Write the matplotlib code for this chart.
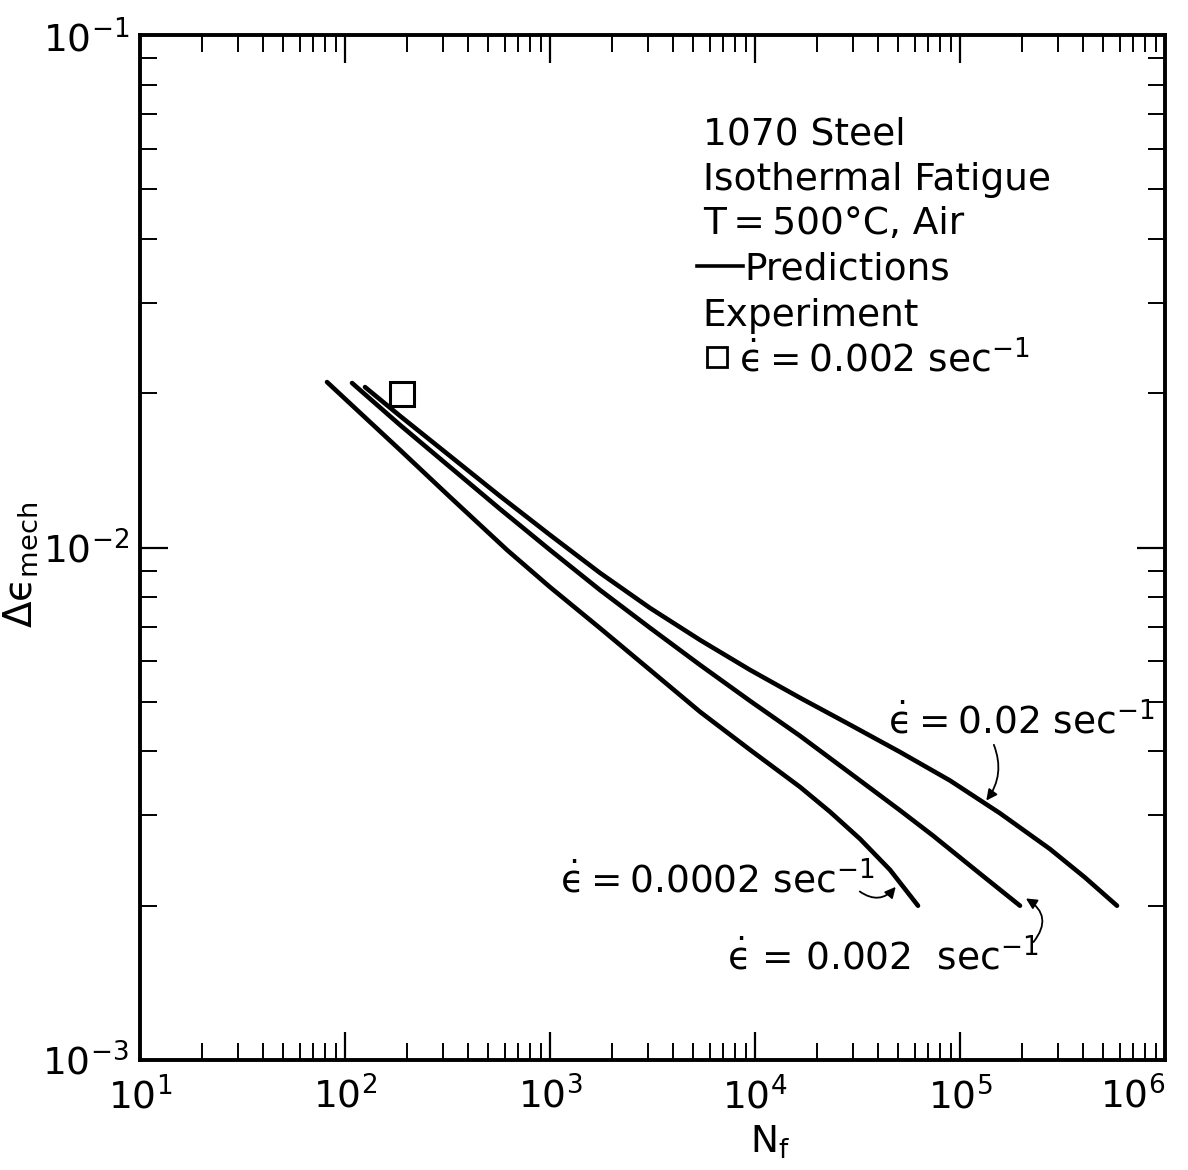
import matplotlib
matplotlib.use("Agg")
import matplotlib.pyplot as plt
from matplotlib.ticker import LogLocator, NullFormatter

# ---- data ----
# Predictions, strain rate 0.0002 /s
nf_0002 = [81.7, 185.5, 325, 617, 1000, 1754, 3074, 5392, 9454, 16580, 23220, 32530,
           45550, 62400]
de_0002 = [0.02103, 0.01550, 0.01255, 0.00989, 0.00837, 0.00696, 0.00577, 0.00478,
           0.00403, 0.00341, 0.00305, 0.00270, 0.00235, 0.00200]
# Predictions, strain rate 0.002 /s
nf_002 = [108.2, 185.5, 325, 570, 1000, 1754, 3074, 5392, 9454, 16580, 29070, 50960,
          73850, 125200, 196200]
de_002 = [0.02094, 0.01734, 0.01436, 0.01189, 0.00989, 0.00826, 0.00697, 0.00590,
          0.00502, 0.00429, 0.00363, 0.00307, 0.00274, 0.00231, 0.00200]
# Predictions, strain rate 0.02 /s
nf_02 = [125.2, 185.5, 325, 570, 1000, 1754, 3074, 5392, 9454, 16580, 29070, 50960,
         89360, 156700, 274800, 407200, 583300]
de_02 = [0.02056, 0.01806, 0.01509, 0.01260, 0.01058, 0.00892, 0.00762, 0.00660,
         0.00577, 0.00509, 0.00451, 0.00399, 0.00351, 0.00303, 0.00258, 0.00227, 0.00200]
# Experiment, strain rate 0.002 /s
exp_nf = [190]
exp_de = [0.0199]

x_ticks = [1e1, 1e2, 1e3, 1e4, 1e5, 1e6]
y_ticks = [1e-3, 1e-2, 1e-1]
legend_lines = ["1070 Steel", "Isothermal Fatigue", "T\u2009=\u2009500°C, Air"]

FS = 27
TS = "\u2009"
EPS = "$\\dot{\\mathrm{\u03f5}}$"
plt.rcParams['font.family'] = ['DejaVu Sans']
plt.rcParams['mathtext.fontset'] = 'dejavusans'
plt.rcParams['axes.unicode_minus'] = False

fig = plt.figure(figsize=(11.88, 11.70), dpi=100)
ax = fig.add_axes([140/1188, 1 - 1060/1170, 1025/1188, 1025/1170])

for nf, de in [(nf_0002, de_0002), (nf_002, de_002), (nf_02, de_02)]:
    ax.plot(nf, de, color='black', lw=3.3, solid_capstyle='round', solid_joinstyle='round')
ax.plot(exp_nf, exp_de, linestyle='none', marker='s', markersize=17,
        markerfacecolor='white', markeredgecolor='black', markeredgewidth=2.2)

ax.set_xscale('log')
ax.set_yscale('log')
ax.set_xlim(1e1, 1e6)
ax.set_ylim(1e-3, 1e-1)
ax.set_xticks(x_ticks)
ax.set_yticks(y_ticks)
ax.xaxis.set_minor_locator(LogLocator(base=10, subs=range(2, 10), numticks=20))
ax.yaxis.set_minor_locator(LogLocator(base=10, subs=range(2, 10), numticks=20))
ax.xaxis.set_minor_formatter(NullFormatter())
ax.yaxis.set_minor_formatter(NullFormatter())

for s in ax.spines.values():
    s.set_linewidth(2.8)
ax.tick_params(which='both', direction='in', top=True, right=True, labelsize=FS)
ax.tick_params(which='major', length=20, width=1.6)
ax.tick_params(which='minor', length=12, width=1.4)
ax.tick_params(axis='x', which='major', pad=12)
ax.tick_params(axis='y', which='major', pad=8)
ax.xaxis.get_major_ticks()[-1].label1.set_horizontalalignment('right')

ax.set_xlabel(r'N$_{\rm f}$', fontsize=FS)
ax.set_ylabel("$\\Delta\\mathrm{\u03f5}_{\\rm mech}$", fontsize=FS + 1)
ax.xaxis.set_label_coords(0.615, -0.062)
ax.yaxis.set_label_coords(-0.098, 0.483)

# legend block
tr = ax.transAxes
ys = [0.893, 0.849, 0.806]
for t, y in zip(legend_lines, ys):
    ax.text(0.549, y, t, transform=tr, fontsize=FS, va='baseline', ha='left')
ax.plot([0.543, 0.588], [0.775, 0.775], transform=tr, color='black', lw=2.6)
ax.text(0.590, 0.761, 'Predictions', transform=tr, fontsize=FS, va='baseline', ha='left')
ax.text(0.549, 0.716, 'Experiment', transform=tr, fontsize=FS, va='baseline', ha='left')
ax.plot([0.563], [0.686], transform=tr, linestyle='none', marker='s', markersize=14,
        markerfacecolor='white', markeredgecolor='black', markeredgewidth=2.0)
ax.text(0.584, 0.672, EPS + TS + '=' + TS + '0.002 sec$^{-1}$',
        transform=tr, fontsize=FS, va='baseline', ha='left')

# curve labels with arrows
ax.text(0.730, 0.319, EPS + TS + '=' + TS + '0.02 sec$^{-1}$',
        transform=tr, fontsize=FS, va='baseline', ha='left')
ax.text(0.410, 0.163, EPS + TS + '=' + TS + '0.0002 sec$^{-1}$',
        transform=tr, fontsize=FS, va='baseline', ha='left')
ax.text(0.573, 0.088, EPS + ' = 0.002  sec$^{-1}$',
        transform=tr, fontsize=FS, va='baseline', ha='left')

arrow_kw = dict(arrowstyle='-|>', color='black', lw=1.3, mutation_scale=16)
ax.annotate('', xy=(0.824, 0.251), xytext=(0.832, 0.310), xycoords=tr, textcoords=tr,
            arrowprops=dict(connectionstyle='arc3,rad=-0.3', **arrow_kw))
ax.annotate('', xy=(0.739, 0.171), xytext=(0.700, 0.166), xycoords=tr, textcoords=tr,
            arrowprops=dict(connectionstyle='arc3,rad=0.5', **arrow_kw))
ax.annotate('', xy=(0.862, 0.159), xytext=(0.870, 0.113), xycoords=tr, textcoords=tr,
            arrowprops=dict(connectionstyle='arc3,rad=0.6', **arrow_kw))

fig.savefig('out.png', dpi=100)
